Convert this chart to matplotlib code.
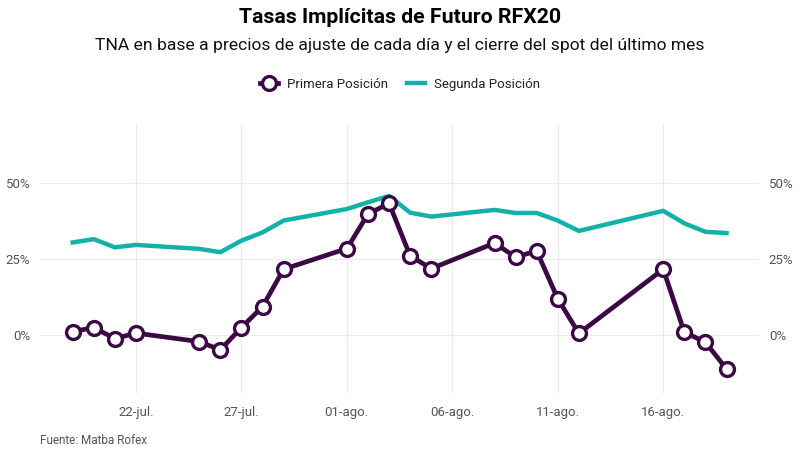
import matplotlib
matplotlib.use("Agg")
import matplotlib.pyplot as plt
import matplotlib.dates as mdates
from matplotlib.ticker import FuncFormatter
import numpy as np
import datetime as dt

plt.rcParams['font.family'] = ['Roboto', 'DejaVu Sans']

fechas = ["2022-07-19", "2022-07-20", "2022-07-21", "2022-07-22", "2022-07-25",
          "2022-07-26", "2022-07-27", "2022-07-28", "2022-07-29", "2022-08-01",
          "2022-08-02", "2022-08-03", "2022-08-04", "2022-08-05", "2022-08-08",
          "2022-08-09", "2022-08-10", "2022-08-11", "2022-08-12", "2022-08-16",
          "2022-08-17", "2022-08-18", "2022-08-19"]

primera = [1.1, 2.4, -1.2, 0.6, -2.2, -4.9, 2.4, 9.3, 21.6, 28.4,
           39.7, 43.3, 26.0, 21.8, 30.2, 25.6, 27.6, 11.9, 0.5, 21.6,
           0.9, -2.4, -11.2]

segunda = [30.4, 31.5, 28.8, 29.6, 28.3, 27.2, 31.0, 33.7, 37.6, 41.4,
           43.6, 45.7, 40.2, 38.9, 41.1, 40.1, 40.1, 37.6, 34.2, 40.8,
           36.7, 33.9, 33.5]

tick_fechas = ["2022-07-22", "2022-07-27", "2022-08-01", "2022-08-06",
               "2022-08-11", "2022-08-16"]
tick_labels = ["22-jul.", "27-jul.", "01-ago.", "06-ago.", "11-ago.", "16-ago."]
y_ticks = [0, 25, 50]

color_primera = "#3b0a45"
color_segunda = "#14b1a9"
gris = "#555555"

x = [dt.datetime.strptime(f, "%Y-%m-%d") for f in fechas]
xt = [dt.datetime.strptime(f, "%Y-%m-%d") for f in tick_fechas]

fig = plt.figure(figsize=(8, 4.57), dpi=100)
ax = fig.add_axes([0.05, 0.14, 0.899, 0.589])

l2, = ax.plot(x, segunda, color=color_segunda, lw=3.2,
              label="Segunda Posición", zorder=2)
l1, = ax.plot(x, primera, color=color_primera, lw=3.4, marker='o', markersize=10,
              markerfacecolor='white', markeredgecolor=color_primera, markeredgewidth=2.4,
              label="Primera Posición", zorder=3)

x0 = mdates.date2num(x[0])
x1 = mdates.date2num(x[-1])
pad = (x1 - x0) * 0.05
ax.set_xlim(x0 - pad, x1 + pad)
ax.set_ylim(-19.1, 69.4)

ax.set_xticks(xt)
ax.set_xticklabels(tick_labels)
ax.set_yticks(y_ticks)
ax.yaxis.set_major_formatter(FuncFormatter(lambda v, p: f"{v:.0f}%"))

ax.grid(True, color="#ebebeb", lw=0.8)
ax.set_axisbelow(True)
for s in ax.spines.values():
    s.set_visible(False)
ax.tick_params(axis='both', length=0, colors=gris, labelsize=9.5)
ax.tick_params(axis='y', labelright=True, pad=7)
ax.tick_params(axis='x', pad=9)

fig.text(0.5, 0.962, "Tasas Implícitas de Futuro RFX20", ha='center', va='center',
         fontsize=15.3, fontweight='bold', color='black')
fig.text(0.5, 0.9, "TNA en base a precios de ajuste de cada día y el cierre del spot del último mes",
         ha='center', va='center', fontsize=12.6, color='#111111')

fig.legend(handles=[l1, l2], loc='center', bbox_to_anchor=(0.5, 0.815), ncol=2,
           frameon=False, fontsize=9.5, handlelength=1.4, columnspacing=1.4,
           handletextpad=0.7, labelcolor='#222222')

fig.text(0.05, 0.037, "Fuente: Matba Rofex", ha='left', va='center',
         fontsize=8.5, color=gris)

fig.savefig("out.png", dpi=100)
